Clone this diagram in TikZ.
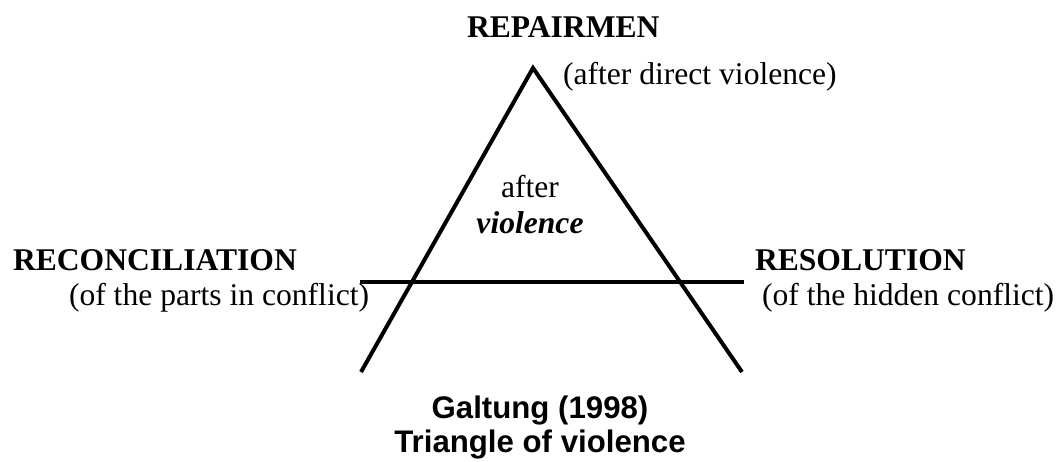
\documentclass[tikz,border=0pt]{standalone}
\usepackage{fontspec}
\setmainfont{Liberation Serif}
\setsansfont{Liberation Sans}
\usetikzlibrary{calc}

\begin{document}
\begin{tikzpicture}[
      x=0.5pt,y=-0.5pt,
      every node/.style={inner sep=0pt,outer sep=0pt},
      label/.style={font=\fontsize{15.8}{19}\selectfont},
      heading/.style={font=\fontsize{15.8}{19}\selectfont\bfseries},
      caption/.style={font=\fontsize{15.6}{19}\selectfont\sffamily\bfseries},
      side/.style={line width=2pt},
      ]

    \useasboundingbox (0,0) rectangle (1058,461);

    % Corners of the triangle and the bar
    \coordinate (apex) at (533,68);
    \coordinate (lfoot) at (361,372);
    \coordinate (rfoot) at (742,372);
    \coordinate (lbar) at (360,282);
    \coordinate (rbar) at (744,282);

    % Draw the lines
    \draw[side] (lfoot) -- (apex) -- (rfoot);
    \draw[side] (lbar) -- (rbar);

    % Position the nodes
    \node[heading,anchor=base west] (repair) at (467,37) {REPAIRMEN};
    \node[label,anchor=base west] (repairnote) at (563,84) {(after direct violence)};

    \node[label,anchor=base] (after) at (530,197) {after};
    \node[label,anchor=base] (viol) at (530,233) {\textbf{\textit{violence}}};

    \node[heading,anchor=base west] (reconc) at (13,270) {RECONCILIATION};
    \node[label,anchor=base west] (reconcnote) at (69,305) {(of the parts in conflict)};

    \node[heading,anchor=base west] (resol) at (755,270) {RESOLUTION};
    \node[label,anchor=base west] (resolnote) at (762,305) {(of the hidden conflict)};

    \node[caption,anchor=base] (galtung) at (540,418) {Galtung (1998)};
    \node[caption,anchor=base] (title) at (540,452) {Triangle of violence};

  \end{tikzpicture}
\end{document}
